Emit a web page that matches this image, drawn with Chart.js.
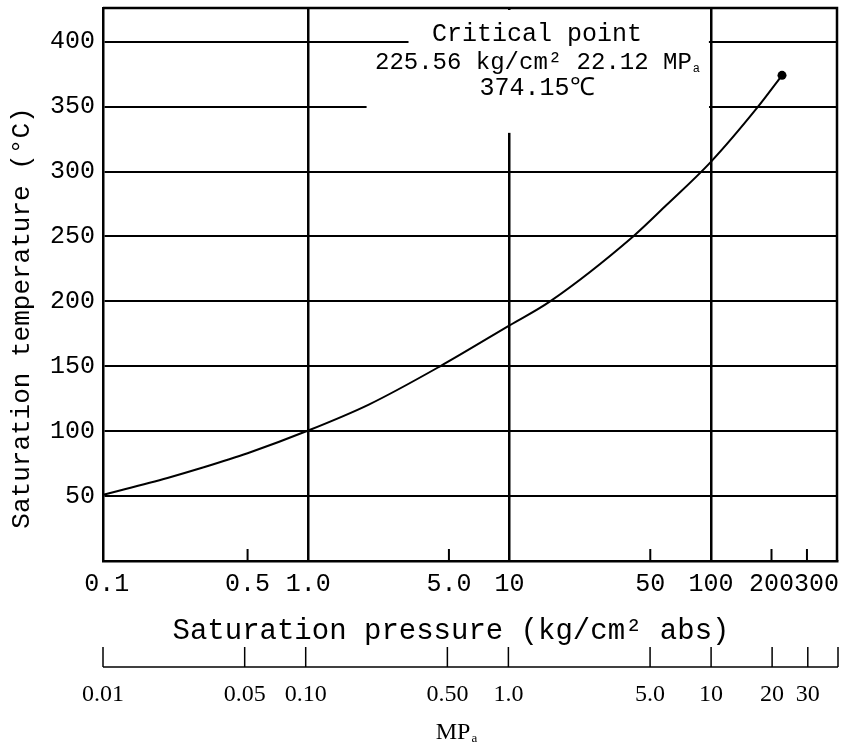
<!DOCTYPE html>
<html>
<head>
<meta charset="utf-8">
<script src="https://cdn.jsdelivr.net/npm/chart.js@4.4.1/dist/chart.umd.min.js"></script>
<style>
  html, body { margin: 0; padding: 0; background: #fff; }
  #wrap { width: 846px; height: 749px; position: relative; }
</style>
</head>
<body>
<div id="wrap"><canvas id="satChart"></canvas></div>
<script>
// saturation curve of water (pressure in kg/cm2 abs, temperature in deg C)
const pressureKg = [0.096, 0.2, 0.3, 0.5, 1.0, 2.0, 4.52, 10, 15.9, 41.1, 60, 100, 171.5, 225.56];
const tempC      = [51, 64, 72, 83, 100.5, 120.5, 150, 181.5, 200, 250, 274, 307.5, 350, 374.15];

const tempTicks = [50, 100, 150, 200, 250, 300, 350, 400];
const kgGridTicks = [1, 10, 100];
const kgMinorTicks = [0.5, 5, 50, 200, 300];
const kgTicks = [0.1, 0.5, 1, 5, 10, 50, 100, 200, 300];
const kgTickLabels = ['0.1', '0.5', '1.0', '5.0', '10', '50', '100', '200', '300'];
const mpaTicks = [0.01, 0.05, 0.1, 0.5, 1, 5, 10, 20, 30];
const mpaTickLabels = ['0.01', '0.05', '0.10', '0.50', '1.0', '5.0', '10', '20', '30'];

const criticalKg = '225.56';
const criticalMpa = '22.12';
const criticalTemp = '374.15';

const MONO = '"Liberation Mono", "Courier New", monospace';
const SERIF = '"Liberation Serif", "Times New Roman", serif';

// text followed by a small lowered letter (MPa with subscript a)
function drawWithSub(ctx, text, sub, cx, cy, font, subFont) {
  ctx.font = font;
  const w1 = ctx.measureText(text).width;
  ctx.font = subFont;
  const w2 = ctx.measureText(sub).width;
  const left = cx - (w1 + w2) / 2;
  ctx.textAlign = 'left';
  ctx.font = font;
  ctx.fillText(text, left, cy);
  ctx.font = subFont;
  ctx.fillText(sub, left + w1 + 1, cy + 6);
}

const decor = {
  id: 'decor',
  beforeDatasetsDraw(chart) {
    const { ctx, chartArea: a, scales: { x, y } } = chart;
    ctx.save();
    ctx.strokeStyle = '#000';
    ctx.lineWidth = 2.5;
    ctx.beginPath();
    ctx.moveTo(a.left, a.top);
    ctx.lineTo(a.right, a.top);
    ctx.lineTo(a.right, a.bottom);
    ctx.stroke();

    // open the grid where the critical point note sits
    ctx.fillStyle = '#fff';
    const r = x.getPixelForValue(100) - 2;
    const b = y.getPixelForValue(330);
    const l1 = x.getPixelForValue(3.15);
    const l2 = x.getPixelForValue(1.95);
    const t2 = y.getPixelForValue(365);
    ctx.fillRect(l1, a.top + 2, r - l1, b - a.top - 2);
    ctx.fillRect(l2, t2, r - l2, b - t2);

    // short marks along the bottom
    ctx.lineWidth = 2;
    kgMinorTicks.forEach(v => {
      const px = x.getPixelForValue(v);
      ctx.beginPath();
      ctx.moveTo(px, a.bottom);
      ctx.lineTo(px, a.bottom - 12);
      ctx.stroke();
    });
    ctx.restore();
  },
  afterDraw(chart) {
    const { ctx, chartArea: a, scales: { x, x2 } } = chart;
    ctx.save();
    ctx.fillStyle = '#000';
    ctx.strokeStyle = '#000';

    // kg/cm2 labels, pushed right when they would run into each other
    ctx.font = `25px ${MONO}`;
    ctx.textBaseline = 'middle';
    ctx.textAlign = 'left';
    let prevRight = -Infinity;
    kgTicks.forEach((v, i) => {
      const w = ctx.measureText(kgTickLabels[i]).width;
      let left = x.getPixelForValue(v) - w / 2;
      if (left < prevRight) left = prevRight;
      ctx.fillText(kgTickLabels[i], left, a.bottom + 23);
      prevRight = left + w;
    });

    ctx.textAlign = 'center';
    ctx.font = `29px ${MONO}`;
    ctx.fillText('Saturation pressure (kg/cm² abs)', a.left + 348, a.bottom + 70);

    ctx.save();
    ctx.translate(22, 318);
    ctx.rotate(-Math.PI / 2);
    ctx.font = `26px ${MONO}`;
    ctx.fillText('Saturation temperature (°C)', 0, 0);
    ctx.restore();

    // MPa scale
    const axisY = a.bottom + 106;
    ctx.lineWidth = 1.5;
    ctx.beginPath();
    ctx.moveTo(a.left, axisY);
    ctx.lineTo(a.right + 1, axisY);
    ctx.stroke();
    [...mpaTicks.map(v => x2.getPixelForValue(v)), a.right + 1].forEach(px => {
      ctx.beginPath();
      ctx.moveTo(px, axisY);
      ctx.lineTo(px, axisY - 20);
      ctx.stroke();
    });
    ctx.font = `24px ${SERIF}`;
    mpaTicks.forEach((v, i) => {
      ctx.fillText(mpaTickLabels[i], x2.getPixelForValue(v), a.bottom + 134);
    });
    drawWithSub(ctx, 'MP', 'a', a.left + 353, a.bottom + 172, `24px ${SERIF}`, `13px ${SERIF}`);

    // critical point note
    const noteX = 537;
    ctx.textAlign = 'center';
    ctx.font = `25px ${MONO}`;
    ctx.fillText('Critical point', noteX, 34);
    drawWithSub(ctx, `${criticalKg} kg/cm² ${criticalMpa} MP`, 'a', noteX, 63, `24px ${MONO}`, `12px ${MONO}`);
    ctx.textAlign = 'center';
    ctx.font = `25px ${MONO}`;
    ctx.fillText(`${criticalTemp}℃`, noteX, 88);
    ctx.restore();
  }
};

new Chart(document.getElementById('satChart'), {
  type: 'line',
  data: {
    datasets: [{
      data: pressureKg.map((p, i) => ({ x: p, y: tempC[i] })),
      borderColor: '#000',
      borderWidth: 2,
      cubicInterpolationMode: 'monotone',
      pointRadius: c => (c.dataIndex === pressureKg.length - 1 ? 4.5 : 0),
      pointBackgroundColor: '#000',
      pointBorderWidth: 0,
      clip: false
    }]
  },
  options: {
    responsive: true,
    maintainAspectRatio: false,
    animation: false,
    layout: { padding: { top: 8, right: 9, left: 0, bottom: 0 } },
    plugins: { legend: { display: false }, tooltip: { enabled: false } },
    scales: {
      x: {
        type: 'logarithmic',
        min: 0.0957,
        max: 423,
        afterBuildTicks: s => { s.ticks = kgGridTicks.map(v => ({ value: v })); },
        afterFit: s => { s.height = 188; s.paddingLeft = 0; s.paddingRight = 0; },
        ticks: { display: false },
        grid: { color: '#000', lineWidth: 2.5, drawTicks: false },
        border: { display: true, color: '#000', width: 2.5 }
      },
      x2: {
        type: 'logarithmic',
        axis: 'x',
        position: 'bottom',
        display: false,
        min: 0.01,
        max: 41.8
      },
      y: {
        type: 'linear',
        min: 0,
        max: 426,
        afterBuildTicks: s => { s.ticks = tempTicks.map(v => ({ value: v })); },
        afterFit: s => { s.width = 103; s.paddingTop = 0; s.paddingBottom = 0; },
        ticks: { color: '#000', font: { family: MONO, size: 25 }, padding: 8 },
        grid: { color: '#000', lineWidth: 2, drawTicks: false },
        border: { display: true, color: '#000', width: 2.5 }
      }
    }
  },
  plugins: [decor]
});
</script>
</body>
</html>
